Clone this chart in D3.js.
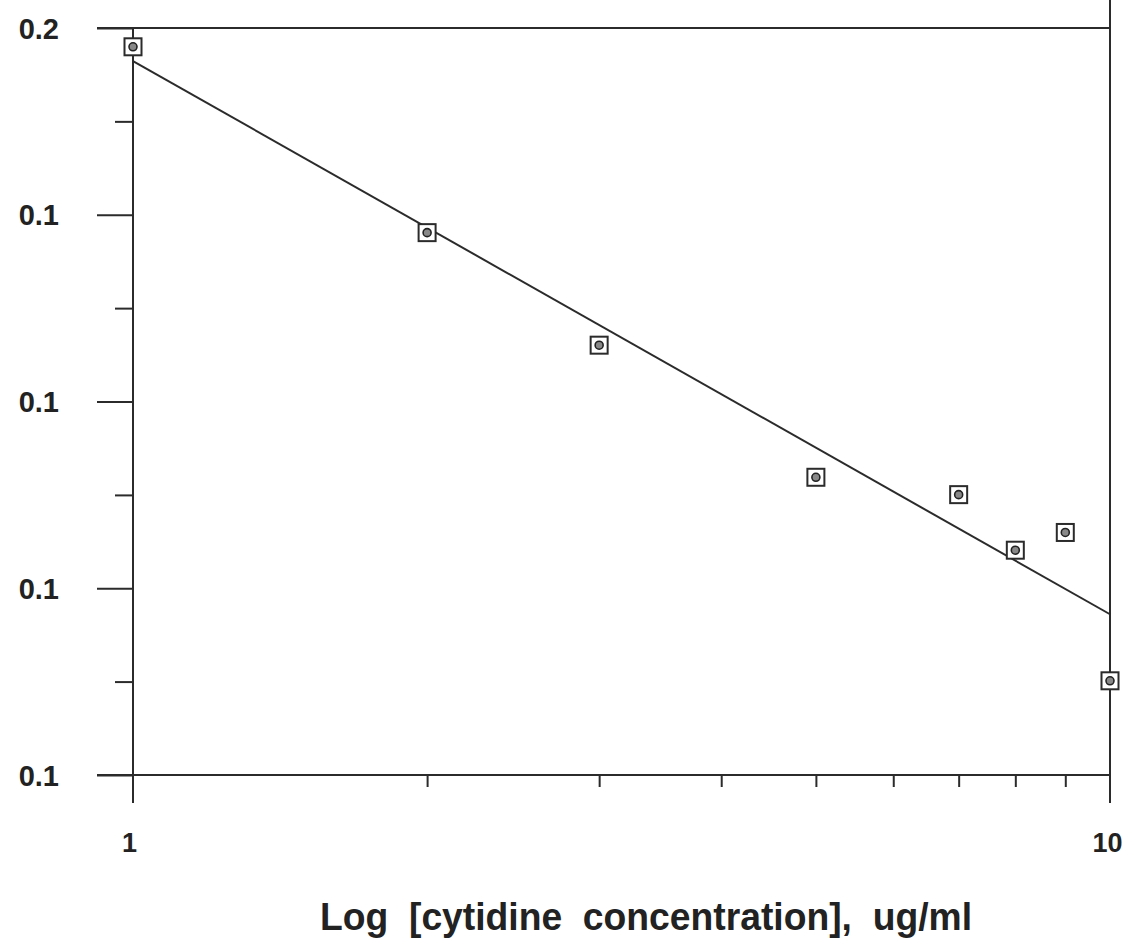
<!DOCTYPE html>
<html>
<head>
<meta charset="utf-8">
<script src="https://cdn.jsdelivr.net/npm/d3@7"></script>
<style>
  html, body { margin: 0; padding: 0; background: #fff; }
  svg { display: block; }
  text { fill: #222; }
</style>
</head>
<body>
<svg id="chart" width="1127" height="941"></svg>
<script>
// ---- data ----
const concentrations = [1, 2, 3, 5, 7, 8, 9, 10];
const responses = [0.1561, 0.1223, 0.1055, 0.0887, 0.0867, 0.0806, 0.0825, 0.0679];
const fitX = [1, 10];
const fitY = [0.1532, 0.0741];
const xMajorTicks = [1, 10];
const xMajorLabels = ["1", "10"];
const xMinorTicks = [2, 3, 4, 5, 6, 7, 8, 9];
const yMajorTicks = [0.16, 0.12521, 0.09798, 0.07667, 0.06];
const yMajorLabels = ["0.2", "0.1", "0.1", "0.1", "0.1"];
const yMinorTicks = [0.14154, 0.11076, 0.08667, 0.06783];
const xTitle = "Log  [cytidine  concentration],  ug/ml";

// ---- layout ----
const svg = d3.select("#chart");
const mLeft = 133, mRight = 1110, mTop = 28, mBottom = 775;
const ink = "#2b2b2b";

const x = d3.scaleLog().domain([1, 10]).range([mLeft, mRight]);
const y = d3.scaleLog().domain([0.06, 0.16]).range([mBottom, mTop]);

svg.append("rect").attr("width", 1127).attr("height", 941).attr("fill", "#fff");

// frame lines
const g = svg.append("g").attr("stroke", ink).attr("stroke-width", 2).attr("fill", "none");
g.append("line").attr("x1", 97).attr("x2", mRight).attr("y1", mTop).attr("y2", mTop);
g.append("line").attr("x1", 97).attr("x2", mRight).attr("y1", mBottom).attr("y2", mBottom);
g.append("line").attr("x1", mLeft).attr("x2", mLeft).attr("y1", mTop).attr("y2", 803);
g.append("line").attr("x1", mRight).attr("x2", mRight).attr("y1", 0).attr("y2", 803);

// y axis ticks via d3 axis
const yAxisMajor = d3.axisLeft(y).tickValues(yMajorTicks).tickSize(36)
  .tickFormat((d, i) => yMajorLabels[i]).tickPadding(38);
const yA = svg.append("g").attr("transform", `translate(${mLeft},0)`).call(yAxisMajor);
yA.select(".domain").remove();
yA.selectAll(".tick line").attr("stroke", ink).attr("stroke-width", 2);
yA.selectAll(".tick text").attr("font-family", "Liberation Sans, Arial, sans-serif")
  .attr("font-weight", "bold").attr("font-size", 29).attr("fill", "#222").attr("dy", "0.35em");

const yAxisMinor = d3.axisLeft(y).tickValues(yMinorTicks).tickSize(18).tickFormat("");
const yB = svg.append("g").attr("transform", `translate(${mLeft},0)`).call(yAxisMinor);
yB.select(".domain").remove();
yB.selectAll(".tick line").attr("stroke", ink).attr("stroke-width", 2);

// x axis ticks
const xAxisMinor = d3.axisBottom(x).tickValues(xMinorTicks).tickSize(12).tickFormat("");
const xB = svg.append("g").attr("transform", `translate(0,${mBottom})`).call(xAxisMinor);
xB.select(".domain").remove();
xB.selectAll(".tick line").attr("stroke", ink).attr("stroke-width", 2);

const xAxisMajor = d3.axisBottom(x).tickValues(xMajorTicks).tickSize(0)
  .tickFormat((d, i) => xMajorLabels[i]).tickPadding(58);
const xA = svg.append("g").attr("transform", `translate(0,${mBottom})`).call(xAxisMajor);
xA.select(".domain").remove();
xA.selectAll(".tick text").attr("font-family", "Liberation Sans, Arial, sans-serif")
  .attr("font-weight", "bold").attr("font-size", 27).attr("fill", "#222")
  .attr("dx", (d, i) => i === 0 ? -4 : -3);

// fit line
svg.append("path")
  .datum(fitX.map((d, i) => [d, fitY[i]]))
  .attr("d", d3.line().x(d => x(d[0])).y(d => y(d[1])))
  .attr("stroke", ink).attr("stroke-width", 2).attr("fill", "none");

// markers
const pts = svg.append("g").selectAll("g")
  .data(concentrations.map((c, i) => ({c, r: responses[i]})))
  .join("g")
  .attr("transform", d => `translate(${x(d.c)},${y(d.r)})`);
pts.append("rect").attr("x", -8.5).attr("y", -8.5).attr("width", 17).attr("height", 17)
  .attr("fill", "#fff").attr("stroke", ink).attr("stroke-width", 2);
pts.append("circle").attr("r", 4).attr("fill", "#888").attr("stroke", "#222").attr("stroke-width", 1.6);

// x title
svg.append("text")
  .attr("x", 320).attr("y", 930)
  .attr("textLength", 652).attr("lengthAdjust", "spacingAndGlyphs")
  .attr("font-family", "Liberation Sans Narrow, Liberation Sans, Arial, sans-serif")
  .attr("font-weight", "bold").attr("font-size", 38)
  .style("white-space", "pre")
  .text(xTitle);
</script>
</body>
</html>
